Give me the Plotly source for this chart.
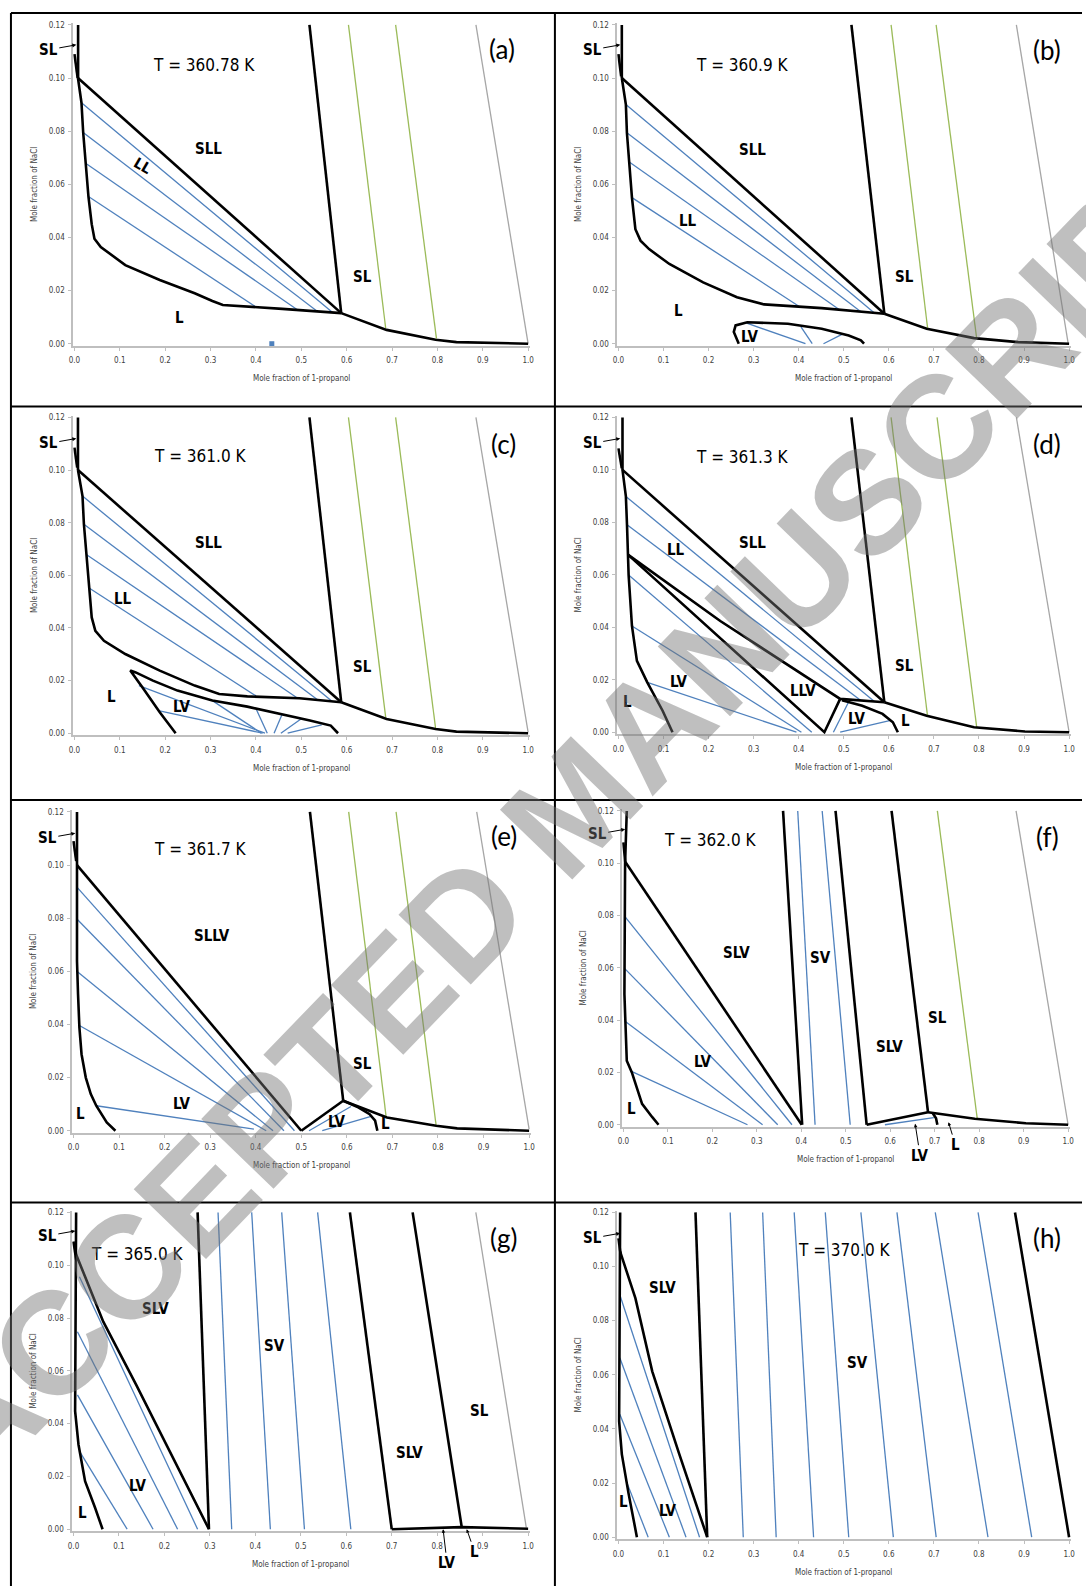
import plotly.graph_objects as go

W, H = 1086, 1589

# ---------------- shared axis text ----------------
X_TICKS = [0.0, 0.1, 0.2, 0.3, 0.4, 0.5, 0.6, 0.7, 0.8, 0.9, 1.0]
X_TICK_TEXT = ["0.0", "0.1", "0.2", "0.3", "0.4", "0.5", "0.6", "0.7", "0.8", "0.9", "1.0"]
Y_TICKS = [0.00, 0.02, 0.04, 0.06, 0.08, 0.10, 0.12]
Y_TICK_TEXT = ["0.00", "0.02", "0.04", "0.06", "0.08", "0.10", "0.12"]
X_TITLE = "Mole fraction of 1-propanol"
Y_TITLE = "Mole fraction of NaCl"
PANEL_TAGS = ["(a)", "(b)", "(c)", "(d)", "(e)", "(f)", "(g)", "(h)"]
TEMPS = ["T = 360.78 K", "T = 360.9 K", "T = 361.0 K", "T = 361.3 K",
         "T = 361.7 K", "T = 362.0 K", "T = 365.0 K", "T = 370.0 K"]
WATERMARK = "ACCEPTED MANUSCRIPT"

# ---------------- panel (a) T = 360.78 K ----------------
A_SL_X = [0.008, 0.008]; A_SL_Y = [0.120, 0.100]
A_SHORT_X = [0.000, 0.007]; A_SHORT_Y = [0.109, 0.100]
A_LL_X = [0.0077, 0.0154, 0.0192, 0.0246, 0.0308, 0.038, 0.044, 0.058, 0.112, 0.188, 0.265, 0.304, 0.327, 0.458, 0.588]
A_LL_Y = [0.100, 0.0907, 0.0795, 0.0679, 0.0554, 0.045, 0.0395, 0.0364, 0.0296, 0.0240, 0.0190, 0.0161, 0.0146, 0.0131, 0.0115]
A_SLL_X = [0.0077, 0.588]; A_SLL_Y = [0.100, 0.0115]
A_SLB_X = [0.518, 0.588]; A_SLB_Y = [0.120, 0.0115]
A_BOT_X = [0.588, 0.688, 0.796, 0.842, 1.000]; A_BOT_Y = [0.0115, 0.0052, 0.0015, 0.0006, 0.000]
A_GREEN1_X = [0.604, 0.686]; A_GREEN1_Y = [0.120, 0.0059]
A_GREEN2_X = [0.708, 0.798]; A_GREEN2_Y = [0.120, 0.0019]
A_GRAY_X = [0.885, 1.000]; A_GRAY_Y = [0.120, 0.000]
A_TIE_X0 = [0.0154, 0.0192, 0.0246, 0.0308]; A_TIE_Y0 = [0.0907, 0.0795, 0.0679, 0.0554]
A_TIE_X1 = [0.569, 0.535, 0.492, 0.400]; A_TIE_Y1 = [0.0117, 0.0122, 0.0127, 0.0138]
A_MARK_X = [0.435]; A_MARK_Y = [0.0]

# ---------------- panel (b) T = 360.9 K ----------------
B_SL_X = [0.0075, 0.0075]; B_SL_Y = [0.120, 0.100]
B_SHORT_X = [0.000, 0.006]; B_SHORT_Y = [0.109, 0.1006]
B_LL_X = [0.0075, 0.0165, 0.0188, 0.024, 0.030, 0.0376, 0.049, 0.068, 0.113, 0.188, 0.263, 0.323, 0.451, 0.590]
B_LL_Y = [0.100, 0.090, 0.0794, 0.0684, 0.055, 0.0431, 0.0388, 0.0356, 0.030, 0.0231, 0.0175, 0.0148, 0.0134, 0.0113]
B_SLL_X = [0.0075, 0.590]; B_SLL_Y = [0.100, 0.0113]
B_SLB_X = [0.517, 0.590]; B_SLB_Y = [0.120, 0.0113]
B_BOT_X = [0.590, 0.684, 0.789, 0.887, 1.000]; B_BOT_Y = [0.0113, 0.0056, 0.0021, 0.0006, 0.000]
B_GREEN1_X = [0.605, 0.686]; B_GREEN1_Y = [0.120, 0.0059]
B_GREEN2_X = [0.705, 0.795]; B_GREEN2_Y = [0.120, 0.0019]
B_GRAY_X = [0.883, 0.998]; B_GRAY_Y = [0.120, 0.000]
B_TIE_X0 = [0.0165, 0.0188, 0.024, 0.030]; B_TIE_Y0 = [0.090, 0.0794, 0.0684, 0.055]
B_TIE_X1 = [0.568, 0.538, 0.492, 0.402]; B_TIE_Y1 = [0.0116, 0.0120, 0.0126, 0.0139]
B_LV_X = [0.267, 0.256, 0.260, 0.286, 0.376, 0.451, 0.511, 0.538, 0.545]
B_LV_Y = [0.000, 0.0044, 0.0069, 0.0081, 0.0075, 0.0056, 0.0031, 0.0013, 0.000]
B_LVT_X0 = [0.280, 0.405, 0.497]; B_LVT_Y0 = [0.0080, 0.0063, 0.0036]
B_LVT_X1 = [0.415, 0.430, 0.455]; B_LVT_Y1 = [0.0, 0.0, 0.0]

# ---------------- panel (c) T = 361.0 K ----------------
C_SL_X = [0.0077, 0.0077]; C_SL_Y = [0.120, 0.100]
C_SHORT_X = [0.000, 0.006]; C_SHORT_Y = [0.1085, 0.1009]
C_LL_X = [0.0077, 0.0177, 0.0208, 0.0269, 0.0331, 0.038, 0.046, 0.065, 0.112, 0.188, 0.265, 0.319, 0.381, 0.496, 0.588]
C_LL_Y = [0.100, 0.0901, 0.0794, 0.0678, 0.0551, 0.044, 0.0389, 0.0351, 0.0301, 0.0238, 0.0181, 0.0149, 0.0140, 0.0133, 0.0118]
C_SLL_X = [0.0077, 0.588]; C_SLL_Y = [0.100, 0.0118]
C_SLB_X = [0.518, 0.588]; C_SLB_Y = [0.120, 0.0118]
C_BOT_X = [0.588, 0.688, 0.796, 0.842, 1.000]; C_BOT_Y = [0.0118, 0.0054, 0.0016, 0.0006, 0.000]
C_GREEN1_X = [0.604, 0.686]; C_GREEN1_Y = [0.120, 0.0061]
C_GREEN2_X = [0.708, 0.796]; C_GREEN2_Y = [0.120, 0.0020]
C_GRAY_X = [0.885, 1.000]; C_GRAY_Y = [0.120, 0.0004]
C_TIE_X0 = [0.0177, 0.0208, 0.0269, 0.0331]; C_TIE_Y0 = [0.0901, 0.0794, 0.0678, 0.0551]
C_TIE_X1 = [0.569, 0.538, 0.492, 0.400]; C_TIE_Y1 = [0.0120, 0.0124, 0.0133, 0.0142]
C_LV_X = [0.223, 0.188, 0.150, 0.123, 0.135, 0.173, 0.227, 0.304, 0.381, 0.458, 0.519, 0.565, 0.581]
C_LV_Y = [0.000, 0.0080, 0.0174, 0.0238, 0.0231, 0.0200, 0.0162, 0.0124, 0.0101, 0.0073, 0.0048, 0.0029, 0.000]
C_LVT_X0 = [0.142, 0.185, 0.304, 0.400, 0.458, 0.500, 0.545]
C_LVT_Y0 = [0.0181, 0.0086, 0.0124, 0.0094, 0.0073, 0.0055, 0.0032]
C_LVT_X1 = [0.420, 0.415, 0.412, 0.425, 0.440, 0.455, 0.470]
C_LVT_Y1 = [0.0, 0.0, 0.0, 0.0, 0.0, 0.0, 0.0]

# ---------------- panel (d) T = 361.3 K ----------------
D_SL_X = [0.009, 0.009]; D_SL_Y = [0.120, 0.100]
D_SHORT_X = [0.000, 0.0075]; D_SHORT_Y = [0.1082, 0.1006]
D_LEFT_X = [0.009, 0.0165, 0.019, 0.021, 0.0226, 0.030, 0.041, 0.064, 0.098, 0.120]
D_LEFT_Y = [0.100, 0.0899, 0.0791, 0.0677, 0.0599, 0.0405, 0.0272, 0.019, 0.0082, 0.000]
D_SLL_X = [0.009, 0.590]; D_SLL_Y = [0.100, 0.0114]
D_LLVTOP_X = [0.021, 0.226, 0.492, 0.590]; D_LLVTOP_Y = [0.0677, 0.0424, 0.0127, 0.0114]
D_LLVLOW_X = [0.021, 0.457, 0.492]; D_LLVLOW_Y = [0.0677, 0.000, 0.0127]
D_LVR_X = [0.496, 0.541, 0.586, 0.609, 0.620]; D_LVR_Y = [0.0122, 0.0101, 0.0070, 0.0038, 0.000]
D_SLB_X = [0.517, 0.590]; D_SLB_Y = [0.120, 0.0114]
D_BOT_X = [0.590, 0.684, 0.789, 0.902, 1.000]; D_BOT_Y = [0.0114, 0.0063, 0.0019, 0.0003, 0.000]
D_GREEN1_X = [0.605, 0.686]; D_GREEN1_Y = [0.120, 0.0060]
D_GREEN2_X = [0.707, 0.795]; D_GREEN2_Y = [0.120, 0.0019]
D_GRAY_X = [0.883, 1.000]; D_GRAY_Y = [0.120, 0.000]
D_TIE_X0 = [0.0165, 0.019]; D_TIE_Y0 = [0.0899, 0.0791]
D_TIE_X1 = [0.568, 0.538]; D_TIE_Y1 = [0.0117, 0.0121]
D_LVT_X0 = [0.0226, 0.030, 0.064, 0.511, 0.604]; D_LVT_Y0 = [0.0599, 0.0405, 0.019, 0.0116, 0.0045]
D_LVT_X1 = [0.429, 0.406, 0.395, 0.477, 0.492]; D_LVT_Y1 = [0.0, 0.0, 0.0, 0.0, 0.0]

# ---------------- panel (e) T = 361.7 K ----------------
E_SL_X = [0.0077, 0.0077]; E_SL_Y = [0.120, 0.100]
E_SHORT_X = [0.000, 0.006]; E_SHORT_Y = [0.109, 0.1015]
E_LEFT_X = [0.0077, 0.0077, 0.010, 0.013, 0.0177, 0.027, 0.038, 0.050, 0.073, 0.092]
E_LEFT_Y = [0.100, 0.0639, 0.0514, 0.0388, 0.0288, 0.020, 0.0138, 0.0094, 0.0031, 0.000]
E_SLLV_X = [0.0077, 0.500]; E_SLLV_Y = [0.100, 0.000]
E_V_X = [0.500, 0.592]; E_V_Y = [0.000, 0.0113]
E_SLB_X = [0.519, 0.592]; E_SLB_Y = [0.120, 0.0113]
E_BOT_X = [0.592, 0.688, 0.796, 0.842, 1.000]; E_BOT_Y = [0.0113, 0.0050, 0.0019, 0.0009, 0.000]
E_RL_X = [0.592, 0.625, 0.650, 0.662, 0.667]; E_RL_Y = [0.0113, 0.0088, 0.0062, 0.0038, 0.000]
E_GREEN1_X = [0.604, 0.686]; E_GREEN1_Y = [0.120, 0.0056]
E_GREEN2_X = [0.708, 0.796]; E_GREEN2_Y = [0.120, 0.0019]
E_GRAY_X = [0.885, 1.000]; E_GRAY_Y = [0.120, 0.0006]
E_TIE_X0 = [0.0085, 0.0080, 0.0080, 0.012, 0.050, 0.609, 0.655]
E_TIE_Y0 = [0.0915, 0.0796, 0.0599, 0.0397, 0.0094, 0.0091, 0.0055]
E_TIE_X1 = [0.485, 0.462, 0.438, 0.423, 0.396, 0.517, 0.546]
E_TIE_Y1 = [0.0, 0.0, 0.0, 0.0, 0.0006, 0.0, 0.0]

# ---------------- panel (f) T = 362.0 K ----------------
F_LEFT_X = [0.0076, 0.0038, 0.0023, 0.0076, 0.019, 0.042, 0.065, 0.079]
F_LEFT_Y = [0.120, 0.100, 0.0499, 0.0245, 0.020, 0.008, 0.0029, 0.000]
F_SHORT_X = [0.000, 0.004]; F_SHORT_Y = [0.108, 0.1006]
F_SLV_X = [0.004, 0.401]; F_SLV_Y = [0.1006, 0.000]
F_SVL_X = [0.359, 0.402]; F_SVL_Y = [0.120, 0.000]
F_SVB1_X = [0.392, 0.431]; F_SVB1_Y = [0.120, 0.000]
F_SVB2_X = [0.447, 0.510]; F_SVB2_Y = [0.120, 0.000]
F_SVR_X = [0.477, 0.547]; F_SVR_Y = [0.120, 0.000]
F_LVB_X = [0.547, 0.685]; F_LVB_Y = [0.000, 0.0048]
F_SLB_X = [0.603, 0.685]; F_SLB_Y = [0.120, 0.0048]
F_BOT_X = [0.685, 0.702, 0.790, 0.905, 1.000]; F_BOT_Y = [0.0048, 0.0044, 0.0023, 0.0006, 0.000]
F_RL_X = [0.695, 0.703, 0.706]; F_RL_Y = [0.0046, 0.0025, 0.000]
F_BL_X = [0.588, 0.698]; F_BL_Y = [0.000, 0.0027]
F_GREEN_X = [0.706, 0.796]; F_GREEN_Y = [0.120, 0.0019]
F_GRAY_X = [0.883, 1.000]; F_GRAY_Y = [0.120, 0.000]
F_TIE_X0 = [0.003, 0.0025, 0.003, 0.017]; F_TIE_Y0 = [0.0797, 0.0598, 0.0397, 0.0205]
F_TIE_X1 = [0.379, 0.347, 0.313, 0.279]; F_TIE_Y1 = [0.0, 0.0, 0.0, 0.0]

# ---------------- panel (g) T = 365.0 K ----------------
G_LEFT_X = [0.0058, 0.0036, 0.011, 0.0255, 0.0473, 0.064]
G_LEFT_Y = [0.120, 0.0447, 0.0321, 0.0182, 0.0082, 0.000]
G_SHORT_X = [0.000, 0.006]; G_SHORT_Y = [0.109, 0.102]
G_SLV_X = [0.0036, 0.0655, 0.138, 0.211, 0.298]; G_SLV_Y = [0.105, 0.0786, 0.0547, 0.0296, 0.000]
G_SVL_X = [0.273, 0.298]; G_SVL_Y = [0.120, 0.000]
G_SVB_TOP = [0.318, 0.392, 0.458, 0.537]
G_SVB_BOT = [0.348, 0.433, 0.508, 0.610]
G_SVR_X = [0.608, 0.700]; G_SVR_Y = [0.120, 0.000]
G_SLB_X = [0.746, 0.854]; G_SLB_Y = [0.120, 0.0008]
G_BOT_X = [0.700, 0.780, 0.854, 1.000]; G_BOT_Y = [0.000, 0.0005, 0.0008, 0.0002]
G_GRAY_X = [0.885, 0.996]; G_GRAY_Y = [0.120, 0.0006]
G_TIE_X0 = [0.0131, 0.0087, 0.0087, 0.013]; G_TIE_Y0 = [0.0956, 0.0748, 0.0509, 0.0296]
G_TIE_X1 = [0.273, 0.229, 0.175, 0.118]; G_TIE_Y1 = [0.0, 0.0, 0.0, 0.0]

# ---------------- panel (h) T = 370.0 K ----------------
H_LEFT_X = [0.0038, 0.0015, 0.0075, 0.0226, 0.041]; H_LEFT_Y = [0.120, 0.0429, 0.0307, 0.016, 0.000]
H_SHORT_X = [0.000, 0.005]; H_SHORT_Y = [0.1104, 0.1043]
H_SLV_X = [0.0038, 0.0376, 0.075, 0.135, 0.197]; H_SLV_Y = [0.1055, 0.0883, 0.0613, 0.0307, 0.000]
H_SVL_X = [0.171, 0.197]; H_SVL_Y = [0.120, 0.000]
H_SVB_TOP = [0.248, 0.320, 0.390, 0.459, 0.538, 0.618, 0.703, 0.798]
H_SVB_BOT = [0.277, 0.350, 0.433, 0.511, 0.610, 0.705, 0.820, 0.917]
H_RIGHT_X = [0.880, 1.000]; H_RIGHT_Y = [0.120, 0.000]
H_TIE_X0 = [0.003, 0.003, 0.003, 0.017]; H_TIE_Y0 = [0.0896, 0.0663, 0.0454, 0.0209]
H_TIE_X1 = [0.180, 0.150, 0.113, 0.066]; H_TIE_Y1 = [0.0, 0.0, 0.0, 0.0]

# ---------------- region labels (text) ----------------
A_REG = ["SLL", "SL", "L"]
B_REG = ["SLL", "LL", "SL", "L", "LV"]
C_REG = ["SLL", "LL", "SL", "L", "LV"]
D_REG = ["SLL", "LL", "SL", "LV", "L", "LLV", "LV", "L"]
E_REG = ["SLLV", "SL", "LV", "L", "LV", "L"]
F_REG = ["SLV", "SV", "SL", "SLV", "LV", "L"]
G_REG = ["SLV", "SV", "SL", "SLV", "LV", "L"]
H_REG = ["SLV", "SV", "LV", "L"]

# ================= styling / layout =================
BLACK = "#000000"; BLUE = "#4f81bd"; GREEN = "#9bbb59"; GREYL = "#a6a6a6"; AXIS = "#bfbfbf"
NARROW = "Liberation Sans Narrow, DejaVu Sans Condensed, Liberation Sans, sans-serif"
STYLE = {"k": (BLACK, 2.6), "b": (BLUE, 1.3), "g": (GREEN, 1.3), "y": (GREYL, 1.3)}

# plot-area pixel boxes: (x of 0, x of 1, y of 0, y of 0.12)
BOXES = [(71, 528, 342, 22), (619, 1073, 342, 22),
         (71, 528, 733, 416), (619, 1073, 732, 416),
         (70, 529, 1132, 812), (624, 1072, 1126, 811),
         (70, 528, 1532, 1214), (619, 1073, 1540, 1214)]
XR = (-0.003, 1.005)
YR = (-0.0008, 0.1206)

fig = go.Figure()


def aid(i):
    return "" if i == 0 else str(i + 1)


def add(i, xs, ys, kind):
    c, w = STYLE[kind]
    fig.add_trace(go.Scatter(x=xs, y=ys, mode="lines", line=dict(color=c, width=w),
                             xaxis="x" + aid(i), yaxis="y" + aid(i),
                             hoverinfo="skip", showlegend=False))


def add_ties(i, x0, y0, x1, y1, kind="b"):
    xs, ys = [], []
    for a, b, c, d in zip(x0, y0, x1, y1):
        xs += [a, c, None]
        ys += [b, d, None]
    add(i, xs, ys, kind)


def add_vert_set(i, tops, bots, kind="b"):
    add_ties(i, tops, [0.12] * len(tops), bots, [0.0] * len(bots), kind)


# (a)
add_ties(0, A_TIE_X0, A_TIE_Y0, A_TIE_X1, A_TIE_Y1)
for xs, ys, k in [(A_GREEN1_X, A_GREEN1_Y, "g"), (A_GREEN2_X, A_GREEN2_Y, "g"), (A_GRAY_X, A_GRAY_Y, "y"),
                  (A_SL_X, A_SL_Y, "k"), (A_SHORT_X, A_SHORT_Y, "k"), (A_LL_X, A_LL_Y, "k"),
                  (A_SLL_X, A_SLL_Y, "k"), (A_SLB_X, A_SLB_Y, "k"), (A_BOT_X, A_BOT_Y, "k")]:
    add(0, xs, ys, k)
fig.add_trace(go.Scatter(x=A_MARK_X, y=A_MARK_Y, mode="markers",
                         marker=dict(color=BLUE, size=5, symbol="square"),
                         xaxis="x", yaxis="y", hoverinfo="skip", showlegend=False, cliponaxis=False))
# (b)
add_ties(1, B_TIE_X0, B_TIE_Y0, B_TIE_X1, B_TIE_Y1)
add_ties(1, B_LVT_X0, B_LVT_Y0, B_LVT_X1, B_LVT_Y1)
for xs, ys, k in [(B_GREEN1_X, B_GREEN1_Y, "g"), (B_GREEN2_X, B_GREEN2_Y, "g"), (B_GRAY_X, B_GRAY_Y, "y"),
                  (B_SL_X, B_SL_Y, "k"), (B_SHORT_X, B_SHORT_Y, "k"), (B_LL_X, B_LL_Y, "k"),
                  (B_SLL_X, B_SLL_Y, "k"), (B_SLB_X, B_SLB_Y, "k"), (B_BOT_X, B_BOT_Y, "k"),
                  (B_LV_X, B_LV_Y, "k")]:
    add(1, xs, ys, k)
# (c)
add_ties(2, C_TIE_X0, C_TIE_Y0, C_TIE_X1, C_TIE_Y1)
add_ties(2, C_LVT_X0, C_LVT_Y0, C_LVT_X1, C_LVT_Y1)
for xs, ys, k in [(C_GREEN1_X, C_GREEN1_Y, "g"), (C_GREEN2_X, C_GREEN2_Y, "g"), (C_GRAY_X, C_GRAY_Y, "y"),
                  (C_SL_X, C_SL_Y, "k"), (C_SHORT_X, C_SHORT_Y, "k"), (C_LL_X, C_LL_Y, "k"),
                  (C_SLL_X, C_SLL_Y, "k"), (C_SLB_X, C_SLB_Y, "k"), (C_BOT_X, C_BOT_Y, "k"),
                  (C_LV_X, C_LV_Y, "k")]:
    add(2, xs, ys, k)
# (d)
add_ties(3, D_TIE_X0, D_TIE_Y0, D_TIE_X1, D_TIE_Y1)
add_ties(3, D_LVT_X0, D_LVT_Y0, D_LVT_X1, D_LVT_Y1)
for xs, ys, k in [(D_GREEN1_X, D_GREEN1_Y, "g"), (D_GREEN2_X, D_GREEN2_Y, "g"), (D_GRAY_X, D_GRAY_Y, "y"),
                  (D_SL_X, D_SL_Y, "k"), (D_SHORT_X, D_SHORT_Y, "k"), (D_LEFT_X, D_LEFT_Y, "k"),
                  (D_SLL_X, D_SLL_Y, "k"), (D_LLVTOP_X, D_LLVTOP_Y, "k"), (D_LLVLOW_X, D_LLVLOW_Y, "k"),
                  (D_LVR_X, D_LVR_Y, "k"), (D_SLB_X, D_SLB_Y, "k"), (D_BOT_X, D_BOT_Y, "k")]:
    add(3, xs, ys, k)
# (e)
add_ties(4, E_TIE_X0, E_TIE_Y0, E_TIE_X1, E_TIE_Y1)
for xs, ys, k in [(E_GREEN1_X, E_GREEN1_Y, "g"), (E_GREEN2_X, E_GREEN2_Y, "g"), (E_GRAY_X, E_GRAY_Y, "y"),
                  (E_SL_X, E_SL_Y, "k"), (E_SHORT_X, E_SHORT_Y, "k"), (E_LEFT_X, E_LEFT_Y, "k"),
                  (E_SLLV_X, E_SLLV_Y, "k"), (E_V_X, E_V_Y, "k"), (E_SLB_X, E_SLB_Y, "k"),
                  (E_BOT_X, E_BOT_Y, "k"), (E_RL_X, E_RL_Y, "k")]:
    add(4, xs, ys, k)
# (f)
add_ties(5, F_TIE_X0, F_TIE_Y0, F_TIE_X1, F_TIE_Y1)
for xs, ys, k in [(F_SVB1_X, F_SVB1_Y, "b"), (F_SVB2_X, F_SVB2_Y, "b"), (F_BL_X, F_BL_Y, "b"),
                  (F_GREEN_X, F_GREEN_Y, "g"), (F_GRAY_X, F_GRAY_Y, "y"),
                  (F_LEFT_X, F_LEFT_Y, "k"), (F_SHORT_X, F_SHORT_Y, "k"), (F_SLV_X, F_SLV_Y, "k"),
                  (F_SVL_X, F_SVL_Y, "k"), (F_SVR_X, F_SVR_Y, "k"), (F_LVB_X, F_LVB_Y, "k"),
                  (F_SLB_X, F_SLB_Y, "k"), (F_BOT_X, F_BOT_Y, "k"), (F_RL_X, F_RL_Y, "k")]:
    add(5, xs, ys, k)
# (g)
add_ties(6, G_TIE_X0, G_TIE_Y0, G_TIE_X1, G_TIE_Y1)
add_vert_set(6, G_SVB_TOP, G_SVB_BOT)
for xs, ys, k in [(G_GRAY_X, G_GRAY_Y, "y"),
                  (G_LEFT_X, G_LEFT_Y, "k"), (G_SHORT_X, G_SHORT_Y, "k"), (G_SLV_X, G_SLV_Y, "k"),
                  (G_SVL_X, G_SVL_Y, "k"), (G_SVR_X, G_SVR_Y, "k"), (G_SLB_X, G_SLB_Y, "k"),
                  (G_BOT_X, G_BOT_Y, "k")]:
    add(6, xs, ys, k)
# (h)
add_ties(7, H_TIE_X0, H_TIE_Y0, H_TIE_X1, H_TIE_Y1)
add_vert_set(7, H_SVB_TOP, H_SVB_BOT)
for xs, ys, k in [(H_LEFT_X, H_LEFT_Y, "k"), (H_SHORT_X, H_SHORT_Y, "k"), (H_SLV_X, H_SLV_Y, "k"),
                  (H_SVL_X, H_SVL_Y, "k"), (H_RIGHT_X, H_RIGHT_Y, "k")]:
    add(7, xs, ys, k)

# ---------------- axes ----------------
layout = dict(width=W, height=H, margin=dict(l=0, r=0, t=0, b=0),
              paper_bgcolor="white", plot_bgcolor="white", showlegend=False)
annotations = []
for i, (x0, x1, y0, yt) in enumerate(BOXES):
    sx = (x1 - x0) / 1.0
    sy = (y0 - yt) / 0.12
    dl, dr = x0 + XR[0] * sx, x0 + XR[1] * sx
    db, dt = y0 - YR[0] * sy, y0 - YR[1] * sy
    layout["xaxis" + aid(i)] = dict(
        domain=[dl / W, dr / W], range=list(XR), anchor="y" + aid(i),
        showgrid=False, zeroline=False, showline=True, linecolor=AXIS, linewidth=1.5,
        ticks="outside", ticklen=3, tickcolor=AXIS, tickvals=X_TICKS, ticktext=X_TICK_TEXT,
        tickfont=dict(size=8, color="#404040", family=NARROW), ticklabelstandoff=3, fixedrange=True)
    layout["yaxis" + aid(i)] = dict(
        domain=[1 - db / H, 1 - dt / H], range=list(YR), anchor="x" + aid(i),
        showgrid=False, zeroline=False, showline=True, linecolor=AXIS, linewidth=1.5,
        ticks="outside", ticklen=3, tickcolor=AXIS, tickvals=Y_TICKS, ticktext=Y_TICK_TEXT,
        tickfont=dict(size=8, color="#404040", family=NARROW), ticklabelstandoff=2, fixedrange=True)
    # axis titles
    annotations.append(dict(xref="paper", yref="paper", x=(x0 + x1) / 2 / W, y=1 - (y0 + 35) / H,
                            text=X_TITLE, showarrow=False, xanchor="center", yanchor="middle",
                            font=dict(size=8, color="#404040", family=NARROW)))
    annotations.append(dict(xref="paper", yref="paper", x=(x0 - 40) / W, y=1 - (y0 + yt) / 2 / H,
                            text=Y_TITLE, showarrow=False, textangle=-90, xanchor="center", yanchor="middle",
                            font=dict(size=8, color="#404040", family=NARROW)))

# ---------------- text labels ----------------
TEMP_POS = [(0.285, 0.105), (0.274, 0.105), (0.277, 0.1053), (0.274, 0.1051),
            (0.277, 0.1059), (0.195, 0.1089), (0.140, 0.1044), (0.500, 0.1061)]
TAG_POS = [(0.942, 0.111), (0.951, 0.1106), (0.946, 0.110), (0.951, 0.110),
           (0.946, 0.111), (0.954, 0.110), (0.946, 0.1104), (0.951, 0.1104)]
SL_TIP = [(0.004, 0.1125), (0.004, 0.1125), (0.004, 0.112), (0.004, 0.112),
          (0.004, 0.112), (0.004, 0.113), (0.004, 0.113), (0.004, 0.1123)]
REG_POS = [
    [(0.296, 0.0732), (0.635, 0.0252), (0.231, 0.0096)],
    [(0.297, 0.0729), (0.154, 0.0463), (0.635, 0.025), (0.134, 0.0125), (0.292, 0.0025)],
    [(0.296, 0.0724), (0.108, 0.051), (0.635, 0.025), (0.081, 0.0137), (0.238, 0.0099)],
    [(0.297, 0.0722), (0.128, 0.0696), (0.635, 0.0253), (0.134, 0.019), (0.021, 0.0114),
     (0.410, 0.0158), (0.530, 0.0051), (0.638, 0.0042)],
    [(0.304, 0.0733), (0.635, 0.0251), (0.238, 0.010), (0.015, 0.0063), (0.579, 0.0031), (0.684, 0.0027)],
    [(0.254, 0.0657), (0.443, 0.0638), (0.706, 0.041), (0.599, 0.0296), (0.179, 0.0239), (0.0176, 0.0061)],
    [(0.181, 0.0833), (0.442, 0.0694), (0.892, 0.0448), (0.738, 0.029), (0.142, 0.0164), (0.019, 0.0063)],
    [(0.098, 0.092), (0.530, 0.0644), (0.109, 0.0098), (0.0113, 0.0129)],
]
REGS = [A_REG, B_REG, C_REG, D_REG, E_REG, F_REG, G_REG, H_REG]
LABFONT = dict(size=15, color="black", family=NARROW)

for i in range(8):
    xr, yr = "x" + aid(i), "y" + aid(i)
    annotations.append(dict(xref=xr, yref=yr, x=TEMP_POS[i][0], y=TEMP_POS[i][1], text=TEMPS[i],
                            showarrow=False, font=dict(size=17, color="black", family=NARROW)))
    annotations.append(dict(xref=xr, yref=yr, x=TAG_POS[i][0], y=TAG_POS[i][1], text=PANEL_TAGS[i],
                            showarrow=False, font=dict(size=26, color="black", family="Lato, Liberation Sans")))
    annotations.append(dict(xref=xr, yref=yr, x=SL_TIP[i][0], y=SL_TIP[i][1], text="<b>SL</b>",
                            showarrow=True, ax=-28, ay=5, arrowhead=2, arrowsize=0.8, arrowwidth=1,
                            arrowcolor="black", standoff=0, font=LABFONT))
    for t, (lx, ly) in zip(REGS[i], REG_POS[i]):
        annotations.append(dict(xref=xr, yref=yr, x=lx, y=ly, text="<b>" + t + "</b>", showarrow=False, font=LABFONT))

# rotated LL in (a)
annotations.append(dict(xref="x", yref="y", x=0.150, y=0.067, text="<b>LL</b>", textangle=30,
                        showarrow=False, font=LABFONT))
# arrowed labels below axes in (f) and (g)
for xr, yr, tx, tip, off in [("x6", "y6", "LV", (0.656, 0.0004), (5, 32)),
                             ("x6", "y6", "L", (0.731, 0.0010), (7, 23)),
                             ("x7", "y7", "LV", (0.813, 0.0), (4, 34)),
                             ("x7", "y7", "L", (0.865, 0.0), (8, 23))]:
    annotations.append(dict(xref=xr, yref=yr, x=tip[0], y=tip[1], text="<b>" + tx + "</b>",
                            showarrow=True, ax=off[0], ay=off[1], arrowhead=2, arrowsize=0.7,
                            arrowwidth=1, arrowcolor="black", standoff=0, font=LABFONT))

# watermark
annotations.append(dict(xref="paper", yref="paper", x=575 / W, y=1 - 805 / H,
                        text="<b>" + WATERMARK + "</b>", showarrow=False, textangle=-46,
                        xanchor="center", yanchor="middle",
                        font=dict(size=146, color="rgba(115,115,115,0.46)", family="Liberation Sans, Arial")))

# panel frame lines
shapes = []
for yy in [10, 405, 800, 1204]:
    shapes.append(dict(type="line", xref="paper", yref="paper", x0=7 / W, x1=1.0, y0=1 - yy / H, y1=1 - yy / H,
                       line=dict(color="black", width=2)))
for xx in [7, 555]:
    shapes.append(dict(type="line", xref="paper", yref="paper", x0=xx / W, x1=xx / W, y0=1 - 10 / H, y1=0,
                       line=dict(color="black", width=2)))

layout["annotations"] = annotations
layout["shapes"] = shapes
fig.update_layout(**layout)
fig.write_html("out.html", config={"displayModeBar": False},
               post_script="document.body.style.margin='0px';document.body.style.overflow='hidden';")
